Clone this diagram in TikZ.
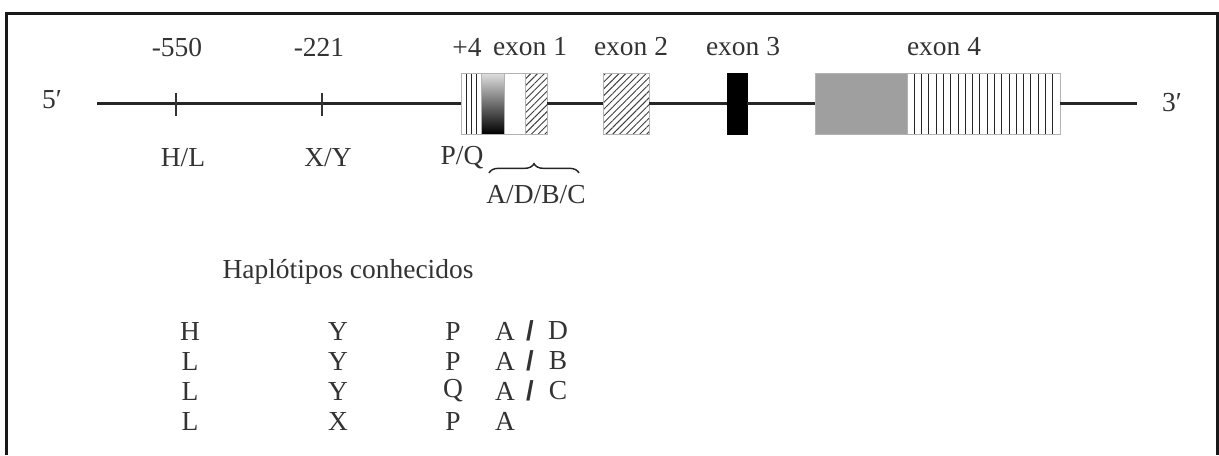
\documentclass[tikz,border=0pt]{standalone}
\usepackage{fontspec}
\setmainfont{Liberation Serif}
\newfontfamily\slashfont{Liberation Sans}
\usetikzlibrary{patterns.meta,decorations.pathreplacing,calc}

\begin{document}
\begin{tikzpicture}[x=0.75pt,y=-0.75pt,
  lbl/.style={text=black!80, font=\fontsize{20.6}{24}\selectfont, inner sep=0pt},
  box/.style={draw=gray!60, line width=0.6pt, inner sep=0pt, outer sep=0pt, minimum height=45.75pt},
  gene/.style={line width=2pt, draw=black!85},
  tickmark/.style={line width=1.1pt, draw=black!80},
  hatch/.style={preaction={fill=white}, pattern={Lines[angle=45,distance=3.6pt,line width=0.7pt]}, pattern color=black!75},
  vlines/.style={path picture={
    \foreach \i in {1,...,#1}{
      \draw[black!85,line width=0.6pt]
        ($(path picture bounding box.north west)!{\i/(#1+1)}!(path picture bounding box.north east)$) --
        ($(path picture bounding box.south west)!{\i/(#1+1)}!(path picture bounding box.south east)$);}}},
]
\useasboundingbox (0,0) rectangle (1219,455);

% open frame
\draw[line width=2.2pt, black!90] (6.5,455) -- (6.5,13.5) -- (1217.5,13.5) -- (1217.5,455);

% gene ends
\coordinate (s) at (97,103.5);
\coordinate (t) at (1137,103.5);
\node[lbl] (five) at (52,100) {5′};
\node[lbl] (three) at (1172,103) {3′};

% exon 1 (four parts)
\node[box, minimum width=15pt, fill=white, vlines=3] (e1a) at (471,103.5) {};
\node[box, minimum width=17.25pt, top color=gray!25, bottom color=black] (e1b) at (492.5,103.5) {};
\node[box, minimum width=15.75pt, fill=white] (e1c) at (514.5,103.5) {};
\node[box, minimum width=16.5pt, hatch] (e1d) at (536,103.5) {};
% exon 2
\node[box, minimum width=34.5pt, hatch] (e2) at (626,103.5) {};
% exon 3
\node[box, minimum width=15pt, fill=black, draw=black] (e3) at (737,103.5) {};
% exon 4
\node[box, minimum width=69pt, fill=gray!75] (e4a) at (861,103.5) {};
\node[box, minimum width=114.75pt, fill=white, vlines=20] (e4b) at (983.5,103.5) {};

% backbone
\draw[gene] (s) -- (e1a.west);
\draw[gene] (e1d.east) -- (e2.west);
\draw[gene] (e2.east) -- (e3.west);
\draw[gene] (e3.east) -- (e4a.west);
\draw[gene] (e4b.east) -- (t);

% promoter polymorphisms
\coordinate (k1) at (176,103.5);
\coordinate (k2) at (322,103.5);
\draw[tickmark] ($(k1)+(0,-11)$) -- ($(k1)+(0,12)$);
\draw[tickmark] ($(k2)+(0,-11)$) -- ($(k2)+(0,12)$);

% labels above
\node[lbl] (p550) at (177,47) {-550};
\node[lbl] (p221) at (319,47) {-221};
\node[lbl] (p4) at (467,47) {+4};
\node[lbl] (x1) at (530,47) {exon 1};
\node[lbl] (x2) at (631,47) {exon 2};
\node[lbl] (x3) at (743,47) {exon 3};
\node[lbl] (x4) at (944,47) {exon 4};

% labels below
\node[lbl] (hl) at (183,158) {H/L};
\node[lbl] (xy) at (328,158) {X/Y};
\node[lbl] (pq) at (462,158) {P/Q};
\coordinate (b1) at (489,173);
\coordinate (b2) at (579,173);
\draw[line width=1.1pt, black!85, decorate, decoration={brace, amplitude=7pt}] (b1) -- (b2);
\node[lbl] (adbc) at (536,195) {A/D/B/C};

% known haplotypes
\node[lbl] (title) at (348,272) {Haplótipos conhecidos};
\foreach \r/\yy/\a/\b/\c/\d in {1/331/H/Y/P/D, 2/361/L/Y/P/B, 3/391/L/Y/Q/C}{
  \node[lbl] (h\r a) at (190,\yy) {\a};
  \node[lbl] (h\r b) at (338,\yy) {\b};
  \node[lbl] (h\r c) at (453,\yy) {\c};
  \node[lbl] (h\r d) at (505,\yy) {A};
  \node[lbl] (h\r s) at (530,\yy) {\slashfont\bfseries /};
  \node[lbl] (h\r e) at (558,\yy) {\d};
}
\node[lbl] (h4a) at (190,421) {L};
\node[lbl] (h4b) at (338,421) {X};
\node[lbl] (h4c) at (453,421) {P};
\node[lbl] (h4d) at (505,421) {A};
\end{tikzpicture}
\end{document}
